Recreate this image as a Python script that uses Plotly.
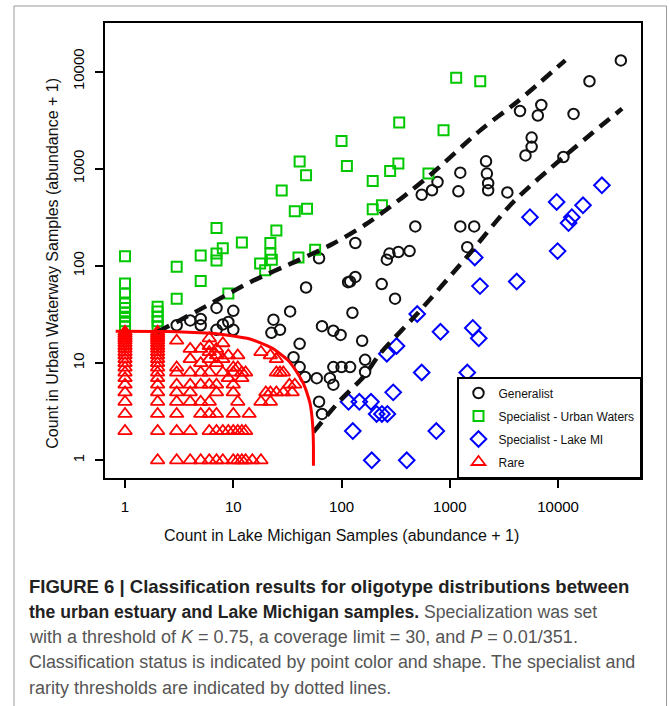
import plotly.graph_objects as go

# ---------------- data ----------------
# Generalist
gen_x = [3, 4, 5, 5, 7, 10, 8, 9, 7, 10,
         23.5, 27, 22.5, 33.5, 47, 62, 115, 66, 84, 98,
         134, 480, 1250, 1680, 1450, 277, 335, 425, 262,
         120, 134, 235, 312, 126, 155, 41, 165, 41, 84, 100, 120, 165, 59, 78, 84, 46, 62, 66, 36,
         38000, 19500, 13900, 7000, 6500, 4450, 5700, 5700, 5000, 11200, 2160, 2200, 2260, 2260,
         3400, 1250, 1200, 770, 685, 550]
gen_y = [24.5, 27.5, 28.5, 24.5, 37, 34.5, 25, 26.5, 22, 22,
         28, 22, 20.5, 34, 60, 120, 68, 24, 21.5, 19.5,
         172, 255, 255, 255, 156, 134, 139, 142, 116,
         69, 77, 65, 46, 33, 17, 15.8, 10.8, 9.1, 9.1, 9.1, 9.1, 8.1, 7, 7, 6, 7.2, 4, 3, 11.5,
         13000, 7930, 3660, 4520, 3530, 3920, 2090, 1680, 1370, 1320, 1190, 890, 710, 600,
         570, 910, 585, 730, 600, 540]

# Specialist - Urban Waters
uw_x = [1, 1, 1, 1, 1, 1, 1, 1, 1,
        2, 2, 2, 2, 2,
        3, 3, 5, 5, 7, 7, 8, 7, 12, 25, 22, 22, 22.7, 17.7, 19.7, 40, 57, 9,
        100, 112, 41, 47, 28, 37, 48, 194, 194, 236,
        1145, 1910, 341, 875, 335, 281, 635]
uw_y = [126, 66, 52, 42, 37, 33, 30, 27, 24,
        38, 34, 30, 27, 24,
        98, 46, 128, 70, 134, 114, 152, 245, 174, 232, 172, 134, 116, 106, 90, 122, 147, 52,
        1930, 1066, 1183, 855, 595, 365, 388, 747, 382, 420,
        8650, 7930, 2980, 2480, 1130, 947, 890]

# Specialist - Lake MI
lm_x = [25400, 9700, 17000, 13400, 12500, 5500, 9900, 1700, 1900, 4150, 500, 820, 1630, 1850,
        322, 262, 550, 1450, 300, 265, 236, 211, 750, 400, 116, 146, 187, 127, 190]
lm_y = [675, 455, 420, 317, 276, 317, 142, 122, 62, 69, 32, 21, 23, 18,
        15, 12.5, 8, 8, 5, 3, 3, 3, 2, 1, 4, 4, 4, 2, 1]

# Rare
rare_x = ([1] * 20 + [2] * 21 +
          [3] * 9 + [4] * 8 + [5] * 7 + [6] * 10 + [7] * 8 + [8] * 5 + [9] * 3 +
          [10] * 7 + [11] * 5 + [12] * 4 + [13] * 3 + [14] + [15] +
          [18] * 3 + [20] + [22] * 3 + [25] * 3 + [27] + [29] * 2 + [33] + [35] + [37])
rare_y = ([2, 3, 4, 5, 6, 7, 8, 9, 10, 11, 12, 13, 14, 15, 16, 17, 18, 19, 20, 21] +
          [1, 2, 3, 4, 5, 6, 7, 8, 9, 10, 11, 12, 13, 14, 15, 16, 17, 18, 19, 20, 21] +
          [1, 2, 3, 4, 5, 6, 8, 9, 17] +
          [1, 2, 4, 5, 6, 8, 11, 14] +
          [1, 3, 4, 6, 8, 10, 14] +
          [1, 2, 3, 4, 6, 8, 11, 13, 15, 18] +
          [1, 2, 3, 5, 6, 10, 12, 14] +
          [1, 2, 8, 11, 16] +
          [2, 7, 12] +
          [1, 2, 3, 5, 6, 8, 9] +
          [1, 2, 4, 9, 12] +
          [1, 2, 7, 8] +
          [1, 2, 8] + [3] + [1] +
          [1, 4, 13] + [5] + [4, 5, 12] + [5, 8, 11] + [8] + [5, 8] + [6] + [5] + [6])

# Thresholds
upper_x = [2, 3, 4.9, 14.3, 41, 84, 171, 335, 710, 1910, 4170, 11660]
upper_y = [21, 26.5, 35.5, 68, 116, 170, 272, 470, 925, 2480, 4860, 13030]
lower_x = [55, 97, 159, 227, 497, 1430, 3860, 11240, 38990]
lower_y = [1.95, 4.14, 7.2, 12.5, 32, 123, 455, 1319, 4150]
rare_curve_x = [0.82, 2, 3, 4.9, 7, 10, 14, 18.3, 23, 27, 32, 36, 40, 44.5, 48, 51.3, 53.5, 54.5, 55, 55]
rare_curve_y = [21.3, 21.2, 21, 20.5, 20, 19, 17.8, 16, 14.2, 12.5, 10.7, 9.1, 7.6, 6.15, 4.9, 3.8, 2.7, 2, 1.4, 0.88]

tick_vals = [1, 10, 100, 1000, 10000]
tick_text = ["1", "10", "100", "1000", "10000"]

FONT = "Liberation Sans, Arial, sans-serif"
GREEN = "#00C800"

fig = go.Figure()
fig.add_trace(go.Scatter(x=gen_x, y=gen_y, mode="markers", name="Generalist",
                         legendgroup="a",
                         marker=dict(symbol="circle-open", size=10.5, color="#111111",
                                     line=dict(width=2, color="#111111"))))
fig.add_trace(go.Scatter(x=uw_x, y=uw_y, mode="markers", name="Specialist - Urban Waters",
                         legendgroup="b",
                         marker=dict(symbol="square-open", size=10, color=GREEN,
                                     line=dict(width=2, color=GREEN))))
fig.add_trace(go.Scatter(x=lm_x, y=lm_y, mode="markers", name="Specialist - Lake MI",
                         legendgroup="c",
                         marker=dict(symbol="diamond-open", size=12, color="#0000FF",
                                     line=dict(width=2, color="#0000FF"))))
fig.add_trace(go.Scatter(x=rare_x, y=rare_y, mode="markers", name="Rare",
                         legendgroup="d",
                         marker=dict(symbol="triangle-up-open", size=12, color="#FF0000",
                                     line=dict(width=1.8, color="#FF0000"))))
fig.add_trace(go.Scatter(x=upper_x, y=upper_y, mode="lines", showlegend=False,
                         line=dict(color="#111111", width=4.5, dash="13px,8px",
                                   shape="spline", smoothing=0.8)))
fig.add_trace(go.Scatter(x=lower_x, y=lower_y, mode="lines", showlegend=False,
                         line=dict(color="#111111", width=4.5, dash="13px,8px",
                                   shape="spline", smoothing=0.8)))
fig.add_trace(go.Scatter(x=rare_curve_x, y=rare_curve_y, mode="lines", showlegend=False,
                         line=dict(color="#FF0000", width=3, shape="spline", smoothing=0.5)))

axis_common = dict(type="log", showgrid=False, zeroline=False, showline=True, mirror=True,
                   linecolor="black", linewidth=1.8, ticks="outside", ticklen=8,
                   tickwidth=1.5, tickcolor="black", tickvals=tick_vals, ticktext=tick_text,
                   tickfont=dict(family=FONT, size=15, color="black"))
fig.update_xaxes(range=[-0.185, 4.766], ticklabelstandoff=6, **axis_common)
fig.update_yaxes(range=[-0.182, 4.499], tickangle=-90, ticklabelstandoff=5, **axis_common)

L, R, T, B = 105, 28, 23, 228
W, H = 669, 706
pw, ph = W - L - R, H - T - B


def px(x):
    return (x - L) / pw


def py(y):
    return (H - B - y) / ph


annotations = [
    dict(text="Count in Lake Michigan Samples (abundance + 1)", x=px(341), y=py(535),
         xref="paper", yref="paper", showarrow=False, xanchor="center", yanchor="middle",
         font=dict(family=FONT, size=16, color="#111111")),
    dict(text="Count in Urban Waterway Samples (abundance + 1)", x=px(51.7), y=py(263),
         xref="paper", yref="paper", showarrow=False, xanchor="center", yanchor="middle",
         textangle=-90, font=dict(family=FONT, size=16, color="#111111")),
]
cap_lines = [
    "<b>FIGURE 6 | Classification results for oligotype distributions between</b>",
    "<b>the urban estuary and Lake Michigan samples.</b><span style='color:#555555'> Specialization was set</span>",
    "<span style='color:#555555'>with a threshold of <i>K</i> = 0.75, a coverage limit = 30, and <i>P</i> = 0.01/351.</span>",
    "<span style='color:#555555'>Classification status is indicated by point color and shape. The specialist and</span>",
    "<span style='color:#555555'>rarity thresholds are indicated by dotted lines.</span>",
]
cap_y = [586.7, 611.7, 636.7, 661.7, 688]
cap_size = [18.5, 17.6, 18, 17.9, 18]
for t, yy, fs in zip(cap_lines, cap_y, cap_size):
    annotations.append(dict(text=t, x=px(27), y=py(yy), xref="paper", yref="paper",
                            showarrow=False, xanchor="left", yanchor="middle", align="left",
                            font=dict(family=FONT, size=fs, color="#222222")))

fig.update_layout(
    width=W, height=H,
    margin=dict(l=L, r=R, t=T, b=B, pad=0),
    paper_bgcolor="white", plot_bgcolor="white",
    showlegend=True,
    legend=dict(x=1, y=0, xanchor="right", yanchor="bottom", bgcolor="white",
                bordercolor="black", borderwidth=1.5, tracegroupgap=4,
                font=dict(family=FONT, size=12, color="#111111"),
                itemwidth=30),
    annotations=annotations,
    shapes=[dict(type="rect", xref="paper", yref="paper", x0=px(14), x1=px(666.5),
                 y0=py(740), y1=py(6), line=dict(color="#9a9a9a", width=1), layer="below")],
)

fig.write_html("out.html")
